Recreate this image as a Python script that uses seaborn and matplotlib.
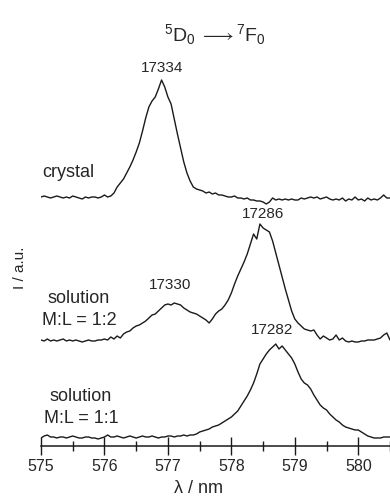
import numpy as np
import pandas as pd
import matplotlib
matplotlib.use("Agg")
import matplotlib.pyplot as plt
from matplotlib.ticker import MultipleLocator
import seaborn as sns

# Emission spectra of the 5D0 -> 7F0 band, sampled every 0.05 nm from 575.00 nm
lambda_start = 575.0
lambda_step = 0.05

crystal = [1, 2, 1, 0, 1, 2, 1, 0, 1, 0, 2, 1, 0, -1, 1, 0, 1, 1, 0, 1,
           3, 1, 2, 5, 11, 15, 19, 25, 31, 38, 46, 55, 67, 80, 91, 97, 101, 109, 118, 111,
           101, 94, 79, 64, 50, 36, 25, 17, 11, 9, 8, 7, 5, 6, 4, 5, 3, 3, 2, 1,
           1, 2, 0, 0, -1, 0, -2, -2, -3, -3, -4, -6, -4, 0, -2, -1, -2, -1, -2, -1,
           -2, -2, 0, -1, 0, 1, 0, 1, -1, 0, 1, -1, -2, -1, -2, 0, -3, -1, -2, 1,
           -2, -1, -3, 0, -2, -1, -2, 0, 3, 0, 0]

solution_12 = [1, 0, 2, 0, 1, 0, 1, 2, 0, 1, 0, 1, 0, -1, 0, 1, 0, 0, 1, 1,
               2, 1, 4, 2, 5, 3, 7, 9, 10, 13, 15, 16, 18, 20, 23, 26, 27, 30, 33, 36,
               37, 36, 38, 37, 36, 33, 31, 29, 28, 27, 25, 23, 21, 18, 22, 27, 30, 32, 36, 41,
               48, 57, 65, 72, 79, 87, 97, 107, 102, 117, 113, 111, 109, 100, 88, 76, 64, 52, 41, 30,
               22, 18, 15, 12, 11, 10, 11, 6, 2, 5, 3, 1, 2, 6, 1, 3, 0, -1, 0, -1,
               -1, 0, 0, 1, 1, 1, 2, 3, 6, 8, 1]

solution_11 = [0, 2, 3, 1, 1, 0, 1, 1, 0, 1, 2, 1, 0, 0, 1, 1, 0, 0, -1, 0,
               1, 3, 1, 1, 2, 1, 0, 1, 2, 1, 0, 1, 2, 1, 1, 2, 1, 0, 1, 1,
               2, 2, 1, 2, 2, 3, 2, 3, 3, 4, 6, 7, 8, 9, 11, 12, 13, 15, 17, 19,
               21, 24, 27, 32, 37, 42, 48, 55, 64, 74, 79, 84, 88, 91, 94, 89, 92, 88, 84, 80,
               74, 66, 59, 55, 53, 49, 43, 38, 33, 30, 28, 24, 21, 18, 16, 13, 11, 10, 9, 8,
               8, 6, 4, 2, 1, 0, 0, 0, 1, 1, 1]

trace_names = ["crystal", "solution\nM:L = 1:2", "solution\nM:L = 1:1"]
trace_offsets = [248, 105, 8]
peak_wavenumbers = [[17334], [17330, 17286], [17282]]
peak_label_heights = [[374.3], [156.7, 227.7], [112.0]]

frames = []
for name, values, offset in zip(trace_names, [crystal, solution_12, solution_11], trace_offsets):
    wl = lambda_start + lambda_step * np.arange(len(values))
    frames.append(pd.DataFrame({"wavelength": wl,
                                "intensity": np.asarray(values, float) + offset,
                                "sample": name}))
spectra = pd.concat(frames, ignore_index=True)

sns.set_theme(style="white")
plt.rcParams["font.family"] = ["Liberation Sans", "DejaVu Sans"]
plt.rcParams["mathtext.fontset"] = "custom"
plt.rcParams["mathtext.rm"] = "Liberation Sans"
plt.rcParams["mathtext.it"] = "Liberation Sans:italic"

W, H = 390, 496
fig = plt.figure(figsize=(W / 100, H / 100), dpi=100)
ax = fig.add_axes([41 / W, 50 / H, (W - 41) / W, 446 / H])

for name in trace_names:
    sns.lineplot(data=spectra[spectra["sample"] == name], x="wavelength", y="intensity",
                 ax=ax, color="#1a1a1a", lw=1.0, legend=False, estimator=None)

ax.set_xlim(575, 580.5)
ax.set_ylim(0, 446)
for side in ["left", "top", "right"]:
    ax.spines[side].set_visible(False)
ax.spines["bottom"].set_linewidth(1.1)
ax.spines["bottom"].set_color("#1a1a1a")
ax.set_yticks([])
ax.xaxis.set_major_locator(MultipleLocator(1))
ax.xaxis.set_minor_locator(MultipleLocator(0.5))
ax.tick_params(axis="x", which="major", direction="inout", length=12.5, width=1.0,
               color="#1a1a1a", labelsize=11.5, pad=3, bottom=True)
ax.tick_params(axis="x", which="minor", direction="inout", length=7, width=1.0,
               color="#1a1a1a", bottom=True)
ax.set_xlabel("")
ax.set_ylabel("")
ax.set_facecolor("none")


def px_to_wl(px):
    return 575 + (px - 41) / 63.45


# Peak positions labelled by wavenumber (cm-1)
for waves, heights in zip(peak_wavenumbers, peak_label_heights):
    for wn, h in zip(waves, heights):
        ax.text(1e7 / wn, h, str(wn), ha="center", va="baseline", fontsize=11)

# Sample names
ax.text(px_to_wl(68.3), 446 - 176.7, "crystal", ha="center", va="baseline", fontsize=13)
for cx, base1, base2, ratio in [(79, 303.3, 325.0, "1:2"), (81, 401.0, 423.3, "1:1")]:
    ax.text(px_to_wl(cx), 446 - base1, "solution", ha="center", va="baseline", fontsize=13)
    ax.text(px_to_wl(cx), 446 - base2, f"M:L = {ratio}", ha="center", va="baseline", fontsize=13)

fig.text(198 / W, 1 - 493 / H, "λ / nm", ha="center", va="baseline", fontsize=13)
fig.text(20 / W, 1 - 268 / H, "I / a.u.", rotation=90, ha="center", va="center", fontsize=11)
fig.text(215 / W, 1 - 41 / H, r"$^{5}$D$_{0}\;\longrightarrow{}^{7}$F$_{0}$",
         ha="center", va="baseline", fontsize=14)

fig.savefig("out.png", dpi=100)
